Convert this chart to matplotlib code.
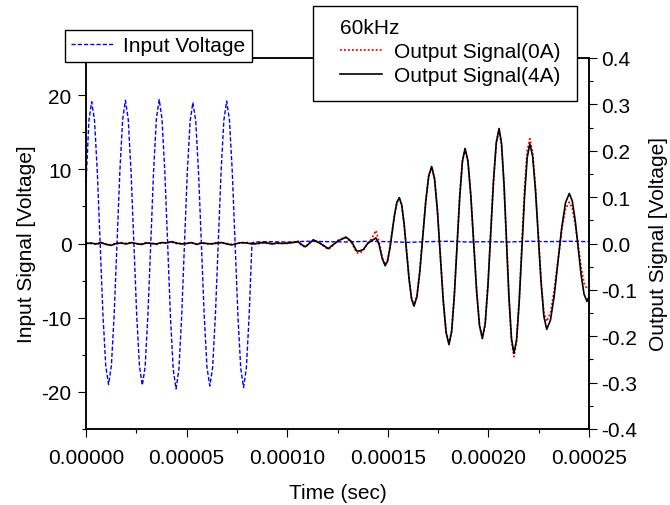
import numpy as np
import matplotlib
matplotlib.use('Agg')
import matplotlib.pyplot as plt
from matplotlib.ticker import MultipleLocator
from matplotlib.patches import Rectangle

# input voltage burst (time in microseconds, volts)
t_in_us = [0.0, 1.44, 2.83, 4.23, 5.63, 7.03, 8.42, 9.82, 11.22, 12.62, 14.01, 15.41,
           16.81, 18.21, 19.60, 21.00, 22.40, 23.80, 25.19, 26.59, 27.99, 29.39, 30.78, 32.18,
           33.58, 34.98, 36.37, 37.77, 39.17, 40.57, 41.96, 43.36, 44.76, 46.16, 47.55, 48.95,
           50.35, 51.75, 53.14, 54.54, 55.94, 57.34, 58.73, 60.13, 61.53, 62.93, 64.32, 65.72,
           67.12, 68.52, 69.91, 71.31, 72.71, 74.11, 75.50, 76.90, 78.30, 79.70, 81.09, 82.49,
           84, 90, 100, 110, 120, 130, 140, 150, 160, 170, 180, 190, 200, 210, 220, 230, 240, 250]
v_in = [8.0, 16.6, 19.1, 16.6, 9.6, 0.0, -9.6, -16.5, -19.0, -16.5, -9.5, 0.0,
        9.6, 16.7, 19.3, 16.7, 9.6, 0.0, -9.6, -16.6, -19.1, -16.6, -9.6, 0.0,
        9.7, 16.8, 19.4, 16.8, 9.7, 0.0, -9.8, -17.0, -19.6, -17.0, -9.8, 0.0,
        9.6, 16.5, 19.0, 16.5, 9.5, 0.0, -9.6, -16.7, -19.2, -16.7, -9.6, 0.0,
        9.6, 16.6, 19.2, 16.6, 9.6, 0.0, -9.7, -16.8, -19.4, -16.8, -9.7, 0.1,
        0.2, 0.25, 0.2, 0.3, 0.25, 0.2, 0.3, 0.25, 0.15, 0.25, 0.3, 0.2, 0.25, 0.2, 0.3, 0.25, 0.3, 0.25]

# output signals (time in microseconds, volts)
t_out_us = [0, 2.5, 5, 7.5, 10, 12.5, 15, 17.5, 20, 22.5,
            25, 27.5, 30, 32.5, 35, 37.5, 40, 42.5, 45, 47.5,
            50, 52.5, 55, 57.5, 60, 62.5, 65, 67.5, 70, 72.5,
            75, 77.5, 80, 82.5, 85, 87.5, 90, 92.5, 95, 97.5,
            100,
            103, 105.4, 107, 109, 111, 113, 116, 118, 120.4, 123, 125.4, 127.5,
            129.2, 132, 134.5, 136, 137.8, 140, 142, 144.1, 145.6, 147.2, 148.7,
            149.87, 151.03, 152.2, 153.37, 154.53, 155.7,
            156.92, 158.13, 159.35, 160.57, 161.78, 163.0,
            164.47, 165.93, 167.4, 168.87, 170.33, 171.8,
            173.23, 174.67, 176.1, 177.53, 178.97, 180.4,
            181.73, 183.07, 184.4, 185.73, 187.07, 188.4,
            189.83, 191.27, 192.7, 194.13, 195.57, 197.0,
            198.38, 199.77, 201.15, 202.53, 203.92, 205.3,
            206.53, 207.77, 209.0, 210.23, 211.47, 212.7,
            214.02, 215.33, 216.65, 217.97, 219.28, 220.6,
            222.0, 223.4, 224.8, 226.2, 227.6, 229.0,
            230.87, 232.73, 234.6, 236.47, 238.33, 240.2,
            241.67, 243.13, 244.6, 246.07, 247.53, 249.0, 250.0]
out_4A = [0.000, 0.001, -0.001, 0.002, -0.002, -0.004, 0.000, 0.001, -0.001, 0.002,
          0.000, -0.002, 0.001, 0.000, -0.001, 0.002, 0.001, 0.004, 0.001, -0.001,
          0.000, 0.002, -0.002, 0.001, 0.000, -0.001, 0.001, 0.002, -0.001, -0.003,
          0.000, 0.002, 0.001, -0.001, 0.000, 0.002, 0.001, -0.001, 0.001, 0.000,
          0.001,
          0.002, 0.004, -0.002, -0.007, 0.000, 0.008, 0.001, -0.004, -0.011, -0.002, 0.006, 0.010,
          0.014, 0.004, -0.016, -0.016, -0.013, 0.000, 0.006, 0.012, -0.001, -0.032, -0.048,
          -0.038, -0.011, 0.026, 0.062, 0.089, 0.099,
          0.083, 0.041, -0.018, -0.077, -0.119, -0.135,
          -0.115, -0.060, 0.016, 0.091, 0.146, 0.166,
          0.140, 0.070, -0.026, -0.122, -0.192, -0.218,
          -0.190, -0.112, -0.007, 0.099, 0.177, 0.205,
          0.178, 0.103, 0.000, -0.102, -0.177, -0.204,
          -0.174, -0.091, 0.022, 0.135, 0.218, 0.248,
          0.216, 0.127, 0.006, -0.116, -0.205, -0.237,
          -0.207, -0.124, -0.011, 0.102, 0.185, 0.215,
          0.188, 0.115, 0.015, -0.085, -0.158, -0.185,
          -0.165, -0.112, -0.038, 0.035, 0.088, 0.108,
          0.092, 0.050, -0.009, -0.067, -0.109, -0.125, -0.115]
out_0A = [0.001, 0.000, -0.002, 0.001, -0.001, -0.003, 0.001, 0.002, 0.000, 0.001,
          -0.001, -0.001, 0.002, 0.001, -0.002, 0.001, 0.002, 0.003, 0.000, 0.000,
          0.001, 0.001, -0.001, 0.002, -0.001, 0.000, 0.002, 0.001, 0.000, -0.002,
          0.001, 0.001, 0.002, 0.000, -0.001, 0.001, 0.002, 0.000, 0.000, 0.001,
          0.000,
          0.003, 0.005, -0.003, -0.008, 0.001, 0.007, 0.002, -0.005, -0.013, -0.003, 0.007, 0.011,
          0.012, 0.002, -0.020, -0.021, -0.015, 0.001, 0.010, 0.028, 0.005, -0.030, -0.046,
          -0.036, -0.008, 0.028, 0.063, 0.088, 0.097,
          0.082, 0.042, -0.016, -0.074, -0.117, -0.134,
          -0.113, -0.057, 0.018, 0.092, 0.145, 0.164,
          0.139, 0.071, -0.024, -0.120, -0.190, -0.216,
          -0.188, -0.110, -0.005, 0.100, 0.176, 0.203,
          0.177, 0.102, 0.001, -0.100, -0.176, -0.205,
          -0.175, -0.090, 0.024, 0.134, 0.215, 0.245,
          0.212, 0.125, 0.004, -0.120, -0.210, -0.244,
          -0.210, -0.120, 0.000, 0.118, 0.200, 0.226,
          0.196, 0.120, 0.020, -0.080, -0.150, -0.168,
          -0.150, -0.100, -0.035, 0.030, 0.075, 0.089,
          0.076, 0.043, -0.004, -0.050, -0.085, -0.098, -0.095]

x_ticks = [0.0, 0.00005, 0.0001, 0.00015, 0.0002, 0.00025]
x_tick_labels = ['0.00000', '0.00005', '0.00010', '0.00015', '0.00020', '0.00025']
left_ticks = [-20, -10, 0, 10, 20]
right_ticks = [-0.4, -0.3, -0.2, -0.1, 0.0, 0.1, 0.2, 0.3, 0.4]
right_tick_labels = ['-0.4', '-0.3', '-0.2', '-0.1', '0.0', '0.1', '0.2', '0.3', '0.4']

plt.rcParams['font.family'] = ['Liberation Sans', 'DejaVu Sans']
plt.rcParams['font.size'] = 15
plt.rcParams['axes.unicode_minus'] = False

fig = plt.figure(figsize=(6.7, 5.06), dpi=100)
ax = fig.add_axes([86 / 670, 1 - 430 / 506, 503 / 670, 371 / 506])
ax2 = ax.twinx()

line_in, = ax.plot(np.array(t_in_us) * 1e-6, v_in, color='#0000ff', lw=1.0,
                   linestyle=(0, (3, 1.5)))
line0, = ax2.plot(np.array(t_out_us) * 1e-6, out_0A, color='#ff0000', lw=1.3,
                  linestyle=(0, (1, 1.2)))
line4, = ax2.plot(np.array(t_out_us) * 1e-6, out_4A, color='black', lw=1.2)

ax.set_xlim(0, 0.00025)
ax.set_ylim(-25, 25)
ax2.set_ylim(-0.4, 0.4)

ax.set_xticks(x_ticks)
ax.set_xticklabels(x_tick_labels)
ax.set_yticks(left_ticks)
ax.set_yticklabels([str(v) for v in left_ticks])
ax2.set_yticks(right_ticks)
ax2.set_yticklabels(right_tick_labels)
ax.xaxis.set_minor_locator(MultipleLocator(0.000025))
ax.yaxis.set_minor_locator(MultipleLocator(5))
ax2.yaxis.set_minor_locator(MultipleLocator(0.05))

for a in (ax, ax2):
    a.tick_params(which='major', direction='out', length=5.5, width=0.8, pad=3)
    a.tick_params(which='minor', direction='out', length=3, width=0.8)
    for s in a.spines.values():
        s.set_linewidth(1.1)
ax.tick_params(axis='x', which='major', pad=8)
ax.tick_params(axis='y', which='major', pad=5)

ax.set_xlabel('Time (sec)', labelpad=12)
ax.set_ylabel('Input Signal [Voltage]', labelpad=4)
ax2.set_ylabel('Output Signal [Voltage]', labelpad=9)

leg1 = ax2.legend(handles=[line_in], labels=['Input Voltage'], loc='upper left',
                  bbox_to_anchor=(65 / 670, 1 - 31 / 506), bbox_transform=fig.transFigure,
                  borderaxespad=0, fancybox=False, edgecolor='black', framealpha=1,
                  handlelength=2, handletextpad=0.5, borderpad=0.3)
leg1.get_frame().set_linewidth(1.0)
ax2.add_artist(leg1)

box = Rectangle((313 / 670, 1 - 102 / 506), 264 / 670, 95 / 506, transform=fig.transFigure,
                facecolor='white', edgecolor='black', lw=1.0, clip_on=False, zorder=4.9)
ax2.add_artist(box)
leg2 = ax2.legend(handles=[line0, line4], labels=['Output Signal(0A)', 'Output Signal(4A)'],
                  title='60kHz', title_fontsize=15, loc='upper left',
                  bbox_to_anchor=(340 / 670, 1 - 19 / 506), bbox_transform=fig.transFigure,
                  borderaxespad=0, borderpad=0, frameon=False, alignment='left',
                  handlelength=2, handletextpad=0.6, labelspacing=0.25)

fig.savefig('out.png', dpi=100)
